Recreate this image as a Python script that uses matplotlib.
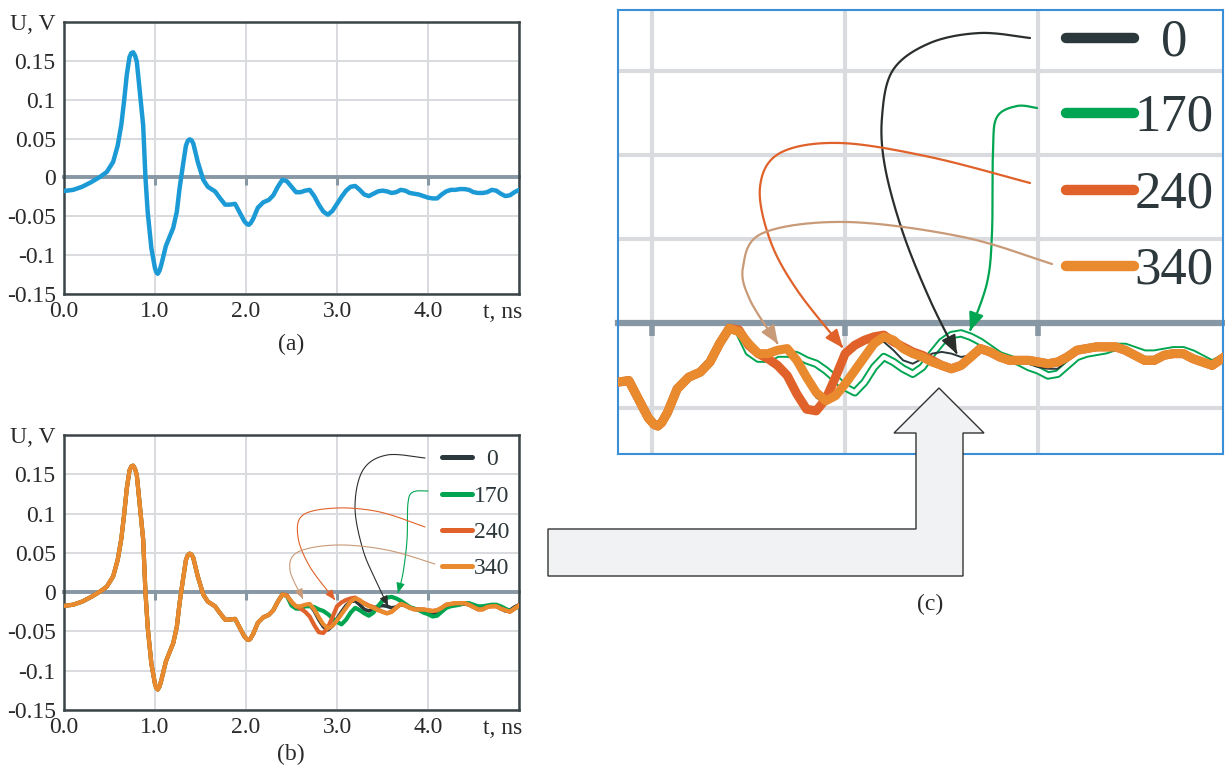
import numpy as np
import matplotlib
matplotlib.use("Agg")
import matplotlib.pyplot as plt
from matplotlib.lines import Line2D
from matplotlib.patches import FancyArrowPatch, Polygon, ArrowStyle
from matplotlib.path import Path

plt.rcParams["font.family"] = ["Liberation Serif", "DejaVu Serif"]

W, H = 1225, 767

# common part of the pulse (all four cases coincide here), t in ns, U in V
t_head = [0.00, 0.10, 0.20, 0.30, 0.40, 0.47, 0.54, 0.59, 0.63, 0.66, 0.69, 0.72,
          0.74, 0.76, 0.78, 0.80, 0.83, 0.87, 0.895, 0.92, 0.96, 1.00, 1.015, 1.03,
          1.05, 1.07, 1.12, 1.20, 1.24, 1.27, 1.31, 1.34, 1.36, 1.38, 1.40, 1.42,
          1.47, 1.53, 1.58, 1.66, 1.71, 1.77, 1.82, 1.88, 1.93, 1.98, 2.01, 2.03,
          2.05, 2.08, 2.13, 2.19, 2.25, 2.30, 2.35, 2.40]
u_head = [-0.0175, -0.016, -0.012, -0.006, 0.001, 0.007, 0.020, 0.041, 0.068, 0.098,
          0.132, 0.155, 0.160, 0.161, 0.157, 0.149, 0.114, 0.067, 0.0, -0.045, -0.091,
          -0.117, -0.122, -0.124, -0.120, -0.112, -0.088, -0.065, -0.044, -0.014,
          0.018, 0.041, 0.047, 0.049, 0.048, 0.044, 0.020, -0.003, -0.012, -0.018,
          -0.026, -0.035, -0.035, -0.034, -0.045, -0.056, -0.060, -0.061, -0.059,
          -0.053, -0.039, -0.032, -0.029, -0.023, -0.012, -0.003]

# late part, where the cases split
t_tail = [2.45, 2.50, 2.55, 2.60, 2.65, 2.70, 2.75, 2.80, 2.85, 2.90, 2.95, 3.00,
          3.05, 3.10, 3.15, 3.20, 3.25, 3.30, 3.35, 3.40, 3.45, 3.50, 3.55, 3.60,
          3.65, 3.70, 3.75, 3.80, 3.85, 3.90, 3.95, 4.00, 4.05, 4.10, 4.15, 4.20,
          4.25, 4.30, 4.35, 4.40, 4.45, 4.50, 4.55, 4.60, 4.65, 4.70, 4.75, 4.80,
          4.85, 4.90, 4.95, 5.00]
u0_tail = [-0.005, -0.012, -0.019, -0.019, -0.017, -0.016, -0.024, -0.035, -0.044,
           -0.048, -0.043, -0.034, -0.025, -0.017, -0.012, -0.011, -0.016, -0.022,
           -0.024, -0.021, -0.018, -0.017, -0.018, -0.020, -0.019, -0.016, -0.017,
           -0.020, -0.021, -0.022, -0.024, -0.026, -0.027, -0.027, -0.022, -0.018,
           -0.016, -0.016, -0.015, -0.015, -0.016, -0.019, -0.020, -0.020, -0.019,
           -0.016, -0.017, -0.021, -0.024, -0.023, -0.019, -0.016]
u170_tail = [-0.005, -0.017, -0.021, -0.021, -0.018, -0.018, -0.019, -0.022, -0.024,
             -0.028, -0.033, -0.038, -0.041, -0.035, -0.026, -0.020, -0.023, -0.027,
             -0.030, -0.026, -0.018, -0.011, -0.007, -0.006, -0.008, -0.011, -0.015,
             -0.019, -0.021, -0.023, -0.026, -0.028, -0.031, -0.030, -0.025, -0.020,
             -0.018, -0.017, -0.016, -0.014, -0.014, -0.016, -0.018, -0.018, -0.017,
             -0.016, -0.016, -0.018, -0.021, -0.024, -0.021, -0.018]
u240_tail = [-0.004, -0.013, -0.018, -0.021, -0.025, -0.031, -0.042, -0.051, -0.052,
             -0.045, -0.032, -0.018, -0.013, -0.010, -0.008, -0.007, -0.011, -0.014,
             -0.017, -0.019, -0.022, -0.025, -0.027, -0.025, -0.020, -0.015, -0.017,
             -0.020, -0.022, -0.022, -0.022, -0.023, -0.024, -0.023, -0.020, -0.016,
             -0.015, -0.014, -0.014, -0.014, -0.016, -0.019, -0.022, -0.022, -0.019,
             -0.018, -0.018, -0.021, -0.023, -0.025, -0.021, -0.017]
u340_tail = [-0.005, -0.012, -0.018, -0.018, -0.016, -0.015, -0.022, -0.032, -0.041,
             -0.046, -0.043, -0.036, -0.028, -0.020, -0.012, -0.008, -0.010, -0.015,
             -0.018, -0.020, -0.023, -0.025, -0.027, -0.025, -0.020, -0.015, -0.017,
             -0.020, -0.022, -0.022, -0.022, -0.023, -0.024, -0.023, -0.020, -0.016,
             -0.015, -0.014, -0.014, -0.014, -0.016, -0.019, -0.022, -0.022, -0.019,
             -0.018, -0.018, -0.021, -0.023, -0.025, -0.021, -0.017]

labels = ["0", "170", "240", "340"]
colors = ["#2b383c", "#00a551", "#e0622a", "#e98a2f"]
arrow_colors = ["#2b2f2c", "#00a551", "#e0622a", "#c99a78"]

t_all = np.array(t_head + t_tail)
series = [np.array(u_head + u) for u in (u0_tail, u170_tail, u240_tail, u340_tail)]

yticks = [-0.15, -0.1, -0.05, 0, 0.05, 0.1, 0.15, 0.2]
ytick_labels = ["-0.15", "-0.1", "-0.05", "0", "0.05", "0.1", "0.15", "U, V"]
xticks = [0, 1, 2, 3, 4, 5]
xtick_labels = ["0.0", "1.0", "2.0", "3.0", "4.0", ""]

GRID = "#d9dbde"
ZERO = "#8797a3"
TXT = "#2a2a2a"


def fx(x):
    return x / W


def fy(y):
    return 1 - y / H


def zero_axis(ax, ticks, lw, tlen, twidth):
    # the U = 0 line with its small downward ticks
    y0, y1 = ax.get_ylim()
    sec = ax.secondary_xaxis((0 - y0) / (y1 - y0))
    sec.set_zorder(1.5)
    sec.set_xticks(ticks)
    sec.set_xticklabels([])
    sec.tick_params(direction="out", length=tlen, width=twidth, color=ZERO)
    sec.spines["bottom"].set_color(ZERO)
    sec.spines["bottom"].set_linewidth(lw)
    return sec


def style_main(ax):
    ax.set_xlim(0, 5)
    ax.set_ylim(-0.15, 0.2)
    ax.set_xticks(xticks, xtick_labels)
    ax.set_yticks(yticks, ytick_labels)
    ax.grid(color=GRID, lw=1.4)
    ax.set_axisbelow(True)
    ax.tick_params(axis="both", length=0, labelsize=17, colors=TXT)
    ax.tick_params(axis="x", pad=5)
    ax.tick_params(axis="y", pad=6)
    for s in ax.spines.values():
        s.set_color("#3b4448")
        s.set_linewidth(1.8)
    zero_axis(ax, [1, 2, 3, 4], 2.8, 6, 2.2)


fig = plt.figure(figsize=(W / 100, H / 100), dpi=100)

# ---- (a) ----
ax_a = fig.add_axes([fx(64), fy(294), 455 / W, 272 / H])
style_main(ax_a)
ax_a.plot(t_all, series[0], color="#1b9ad6", lw=3.2, zorder=3)
fig.text(fx(503), fy(318), "t, ns", ha="center", va="baseline", fontsize=17, color=TXT)
fig.text(fx(291), fy(350), "(a)", ha="center", va="baseline", fontsize=17, color=TXT)

# ---- (b) ----
ax_b = fig.add_axes([fx(64), fy(710), 455 / W, 275 / H])
style_main(ax_b)
for u, c, lw in zip(series, colors, [2.6, 3.0, 3.0, 3.0]):
    ax_b.plot(t_all, u, color=c, lw=lw, zorder=3)
fig.text(fx(503), fy(734), "t, ns", ha="center", va="baseline", fontsize=17, color=TXT)
fig.text(fx(291), fy(760), "(b)", ha="center", va="baseline", fontsize=17, color=TXT)

# ---- (c): zoom of (b) ----
ax_c = fig.add_axes([fx(618), fy(454), 605 / W, 444 / H])
ax_c.set_xlim(1.824, 4.956)
ax_c.set_ylim(-0.0776, 0.186)
ax_c.set_xticks([2, 3, 4])
ax_c.set_yticks([-0.05, 0, 0.05, 0.1, 0.15])
ax_c.tick_params(length=0, labelbottom=False, labelleft=False)
ax_c.grid(color=GRID, lw=3)
ax_c.set_axisbelow(True)
for s in ax_c.spines.values():
    s.set_color("#3a8fd8")
    s.set_linewidth(1.5)
zero_axis(ax_c, [2, 3, 4], 4.5, 9, 4.0)
ax_c.plot(t_all, series[1], color=colors[1], lw=6.0, zorder=3)
ax_c.plot(t_all, series[1], color="white", lw=3.2, zorder=3)
ax_c.plot(t_all, series[0], color=colors[0], lw=1.4, zorder=3)
ax_c.plot(t_all, series[2], color=colors[2], lw=6.5, zorder=3)
ax_c.plot(t_all, series[3], color=colors[3], lw=6.5, zorder=3)
fig.text(fx(930), fy(610), "(c)", ha="center", va="baseline", fontsize=17, color=TXT)


# ---- legends with curved pointers ----
def smooth(pts, n=24):
    p = np.array(pts, float)
    p = np.vstack([p[0], p, p[-1]])
    out = []
    for i in range(1, len(p) - 2):
        p0, p1, p2, p3 = p[i - 1], p[i], p[i + 1], p[i + 2]
        for s in np.linspace(0, 1, n, endpoint=False):
            out.append(0.5 * (2 * p1 + (-p0 + p2) * s + (2 * p0 - 5 * p1 + 4 * p2 - p3) * s ** 2
                              + (-p0 + 3 * p1 - 3 * p2 + p3) * s ** 3))
    out.append(p[-2])
    out = np.array(out)
    return np.column_stack([out[:, 0] / W, 1 - out[:, 1] / H])


def pointer(pts, color, lw, hl, hw):
    arr = FancyArrowPatch(path=Path(smooth(pts)), transform=fig.transFigure,
                          arrowstyle=ArrowStyle("-|>", head_length=hl, head_width=hw),
                          mutation_scale=1, color=color, lw=lw, zorder=6)
    fig.add_artist(arr)


def legend(rows, x0, x1, xt, size, lw):
    for y, lab, c in zip(rows, labels, colors):
        fig.add_artist(Line2D([fx(x0), fx(x1)], [fy(y), fy(y)], color=c, lw=lw,
                              solid_capstyle="round", zorder=6))
        fig.text(fx(xt), fy(y + size * 0.46), lab, ha="center", va="baseline",
                 fontsize=size, color="#2d383c", zorder=6)


legend([457, 494, 530, 566], 442, 472, 492, 17, 3.6)
legend([38, 113, 190, 266], 1066, 1134, 1174, 38, 7.5)

ptr_b = [
    [(425, 458), (387, 455), (363, 470), (355, 507), (363, 550), (377, 583), (388, 606)],
    [(428, 491), (413, 492), (408, 503), (407, 540), (403, 573), (398, 593)],
    [(425, 527), (380, 512), (337, 508), (303, 515), (298, 537), (310, 567), (335, 600)],
    [(435, 564), (387, 550), (337, 545), (298, 552), (290, 570), (303, 599)],
]
ptr_c = [
    [(1030, 38), (980, 33), (930, 43), (893, 70), (882, 117), (885, 167), (903, 233),
     (930, 300), (957, 354)],
    [(1037, 108), (1017, 106), (997, 117), (993, 150), (992, 233), (987, 283), (970, 331)],
    [(1030, 183), (930, 157), (840, 143), (780, 153), (760, 187), (770, 240), (797, 290),
     (843, 348)],
    [(1052, 264), (963, 237), (847, 222), (763, 233), (743, 267), (750, 300), (778, 344)],
]
for pts, c in zip(ptr_b, arrow_colors):
    pointer(pts, c, 0.8, 6, 2.5)
for pts, c in zip(ptr_c, arrow_colors):
    pointer(pts, c, 1.6, 11, 4.5)

# big hollow arrow from (b) to (c)
big = [(548, 576), (548, 529), (916, 529), (916, 433), (894, 433), (939, 388),
       (984, 433), (963, 433), (963, 576)]
fig.add_artist(Polygon([(fx(x), fy(y)) for x, y in big], closed=True,
                       transform=fig.transFigure, facecolor="#f1f2f4",
                       edgecolor="#333333", lw=1.0, zorder=5))

fig.savefig("out.png", dpi=100)
